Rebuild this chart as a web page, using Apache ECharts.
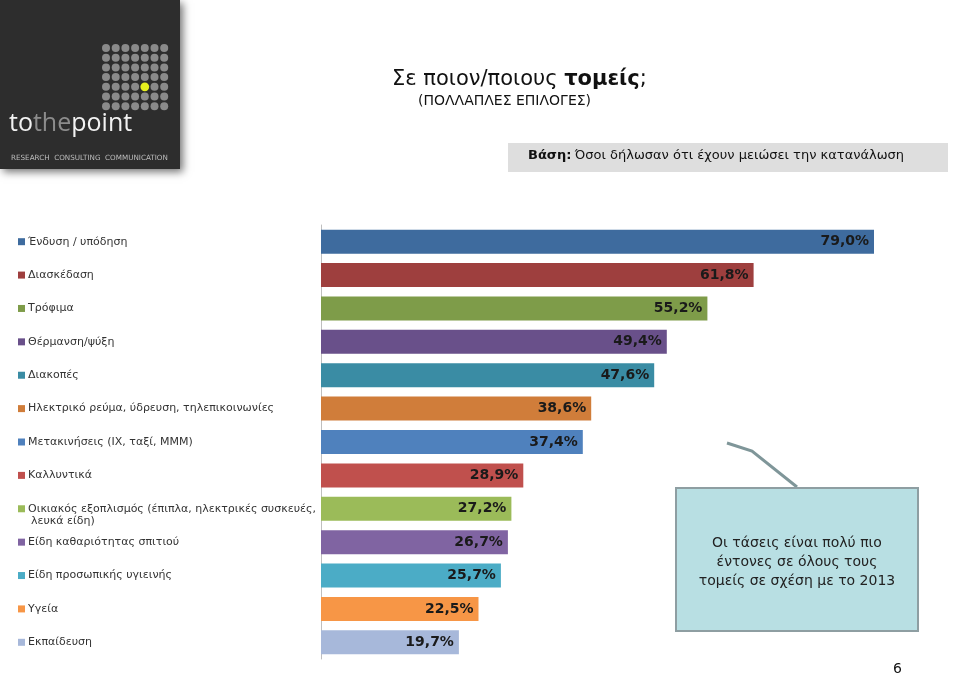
<!DOCTYPE html>
<html><head><meta charset="utf-8">
<script src="https://cdn.jsdelivr.net/npm/echarts@6/dist/echarts.min.js"></script>
<style>html,body{margin:0;padding:0;background:#fff}#c{width:960px;height:676px}</style>
</head><body><div id="c"></div>
<script>
const categories = [
  'Ένδυση / υπόδηση',
  'Διασκέδαση',
  'Τρόφιμα',
  'Θέρμανση/ψύξη',
  'Διακοπές',
  'Ηλεκτρικό ρεύμα, ύδρευση, τηλεπικοινωνίες',
  'Μετακινήσεις (ΙΧ, ταξί, ΜΜΜ)',
  'Καλλυντικά',
  'Οικιακός εξοπλισμός (έπιπλα, ηλεκτρικές συσκευές,\nλευκά είδη)',
  'Είδη καθαριότητας σπιτιού',
  'Είδη προσωπικής υγιεινής',
  'Υγεία',
  'Εκπαίδευση'
];
const values = [79.0, 61.8, 55.2, 49.4, 47.6, 38.6, 37.4, 28.9, 27.2, 26.7, 25.7, 22.5, 19.7];
const colors = ['#3E6B9E','#9E3F3E','#7E9C49','#69508A','#3A8CA4','#D07D3A','#4F81BD','#C0504D','#9BBB59','#8064A2','#4BACC6','#F79646','#A7B8DA'];

const FONT = 'DejaVu Sans';
const rich = {
  t: { fontFamily: FONT, fontSize: 11, color: '#333', padding: [0,0,0,3], lineHeight: 12 },
  sp: { width: 10 },
  e: { height: 12, lineHeight: 12 }
};
colors.forEach((c, i) => { rich['s' + i] = { width: 7, height: 7, backgroundColor: c }; });

const chart = echarts.init(document.getElementById('c'), null, { renderer: 'canvas' });

const graphics = [];
// logo
graphics.push({ type: 'rect', shape: { x: 0, y: 0, width: 180, height: 169 },
  style: { fill: '#2D2D2D', shadowBlur: 8, shadowOffsetX: 3, shadowOffsetY: 3, shadowColor: 'rgba(0,0,0,0.55)' }, z: 1 });
for (let r = 0; r < 7; r++) {
  for (let c = 0; c < 7; c++) {
    const yel = (r === 4 && c === 4);
    graphics.push({ type: 'circle', shape: { cx: 106 + c * 9.7, cy: 48 + r * 9.7, r: yel ? 4.4 : 4.0 },
      style: { fill: yel ? '#E6F01E' : '#8A8A8A' }, z: 2 });
  }
}
graphics.push({ type: 'text', left: 9, top: 111, z: 2,
  style: { text: '{a|to}{b|the}{a|point}', rich: {
    a: { fontFamily: 'Open Sans', fontSize: 25, fill: '#F2F2F2', color: '#F2F2F2' },
    b: { fontFamily: 'Open Sans', fontSize: 25, fill: '#8C8C8C', color: '#8C8C8C' } } } });
graphics.push({ type: 'text', left: 11, top: 155, z: 2,
  style: { text: 'RESEARCH  CONSULTING  COMMUNICATION', fontFamily: 'DejaVu Sans', fontSize: 7.2, fill: '#BDBDBD' } });

// base box
graphics.push({ type: 'rect', shape: { x: 508, y: 143, width: 440, height: 29 }, style: { fill: '#DEDEDE' } });
graphics.push({ type: 'text', left: 528, top: 149,
  style: { text: '{b|Βάση:} {n|Όσοι δήλωσαν ότι έχουν μειώσει την κατανάλωση}', rich: {
    b: { fontFamily: FONT, fontSize: 13, fontWeight: 'bold', fill: '#111' },
    n: { fontFamily: FONT, fontSize: 13, fill: '#111' } } } });

// callout
graphics.push({ type: 'polyline', shape: { points: [[727, 443], [752, 451], [797, 487]] },
  style: { stroke: '#7F9699', lineWidth: 3, fill: null } });
graphics.push({ type: 'rect', shape: { x: 676, y: 488, width: 242, height: 143 },
  style: { fill: '#B8DFE3', stroke: '#8E9EA2', lineWidth: 2 } });
graphics.push({ type: 'text', x: 797, y: 562,
  style: { text: 'Οι τάσεις είναι πολύ πιο\nέντονες σε όλους τους\nτομείς σε σχέση με το 2013',
    fontFamily: FONT, fontSize: 14, fill: '#222', align: 'center', verticalAlign: 'middle', lineHeight: 19 } });
// page number
graphics.push({ type: 'text', left: 893, top: 662, style: { text: '6', fontFamily: FONT, fontSize: 14, fill: '#111' } });

chart.setOption({
  animation: false,
  title: [
    { text: 'Σε ποιον/ποιους {b|τομείς};', left: 392, top: 69, padding: 0,
      textStyle: { fontFamily: FONT, fontSize: 21, fontWeight: 'normal', color: '#111',
        rich: { b: { fontFamily: FONT, fontSize: 21, fontWeight: 'bold', color: '#111' } } } },
    { text: '(ΠΟΛΛΑΠΛΕΣ ΕΠΙΛΟΓΕΣ)', left: 418, top: 94, padding: 0,
      textStyle: { fontFamily: FONT, fontSize: 14, fontWeight: 'normal', color: '#111' } }
  ],
  grid: { left: 321, right: 79, top: 225, bottom: 17, containLabel: false },
  xAxis: { type: 'value', min: 0, max: 80, show: false },
  yAxis: {
    type: 'category', inverse: true, data: categories,
    axisLine: { show: true, lineStyle: { color: '#BFBFBF', width: 1 } },
    axisTick: { show: false },
    axisLabel: {
      align: 'left', margin: 303, interval: 0,
      formatter: (v, i) => {
        const parts = v.split('\n');
        let s = '{s' + i + '|}{t|' + parts[0] + '}';
        for (let k = 1; k < parts.length; k++) s += '\n{sp|}{t|' + parts[k] + '}';
        if (parts.length > 1) s = '{e|}\n' + s;
        return s;
      },
      rich: rich
    }
  },
  series: [{
    type: 'bar', barWidth: 24,
    data: values.map((v, i) => ({ value: v, itemStyle: { color: colors[i] } })),
    label: { show: true, position: 'insideRight', distance: 5,
      formatter: p => p.value.toFixed(1).replace('.', ',') + '%',
      fontFamily: FONT, fontSize: 14, fontWeight: 'bold', color: '#1A1A1A' }
  }],
  graphic: graphics
});
</script></body></html>
